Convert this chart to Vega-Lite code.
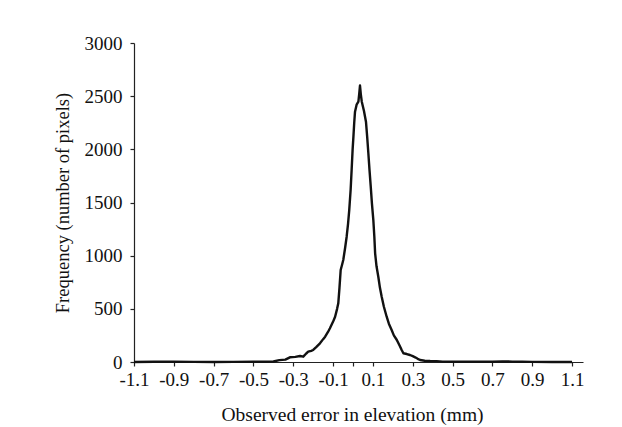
{
  "$schema": "https://vega.github.io/schema/vega-lite/v6.json",
  "width": 449,
  "height": 319,
  "autosize": "none",
  "padding": {"left": 134, "top": 43, "right": 39, "bottom": 65},
  "background": "white",
  "config": {
    "view": {"stroke": null},
    "font": "Liberation Serif",
    "axis": {
      "labelFont": "Liberation Serif",
      "titleFont": "Liberation Serif",
      "labelFontSize": 19,
      "titleFontSize": 19,
      "titleFontWeight": "normal",
      "labelColor": "#111",
      "titleColor": "#111",
      "domainColor": "#222",
      "tickColor": "#222",
      "domainWidth": 1.2,
      "tickWidth": 1.2,
      "grid": false
    }
  },
  "data": {
    "values": [
      {"error": -1.1, "freq": 0}, {"error": -1.0, "freq": 2}, {"error": -0.9, "freq": 3},
      {"error": -0.8, "freq": 1}, {"error": -0.7, "freq": 0}, {"error": -0.6, "freq": 1},
      {"error": -0.5, "freq": 2}, {"error": -0.45, "freq": 3}, {"error": -0.4, "freq": 5},
      {"error": -0.37, "freq": 18}, {"error": -0.34, "freq": 22}, {"error": -0.317, "freq": 44},
      {"error": -0.29, "freq": 48}, {"error": -0.266, "freq": 56}, {"error": -0.25, "freq": 50},
      {"error": -0.235, "freq": 80}, {"error": -0.225, "freq": 97}, {"error": -0.21, "freq": 105},
      {"error": -0.2, "freq": 113}, {"error": -0.185, "freq": 140}, {"error": -0.166, "freq": 176},
      {"error": -0.15, "freq": 215}, {"error": -0.14, "freq": 238}, {"error": -0.125, "freq": 285},
      {"error": -0.116, "freq": 317}, {"error": -0.1, "freq": 380}, {"error": -0.09, "freq": 426},
      {"error": -0.08, "freq": 500}, {"error": -0.074, "freq": 552}, {"error": -0.068, "freq": 700},
      {"error": -0.062, "freq": 865}, {"error": -0.055, "freq": 915}, {"error": -0.049, "freq": 959},
      {"error": -0.04, "freq": 1070}, {"error": -0.032, "freq": 1178}, {"error": -0.025, "freq": 1300},
      {"error": -0.019, "freq": 1429}, {"error": -0.012, "freq": 1620}, {"error": -0.007, "freq": 1806},
      {"error": -0.002, "freq": 2000}, {"error": 0.002, "freq": 2119}, {"error": 0.006, "freq": 2250},
      {"error": 0.01, "freq": 2354}, {"error": 0.018, "freq": 2420}, {"error": 0.027, "freq": 2448},
      {"error": 0.031, "freq": 2520}, {"error": 0.035, "freq": 2600}, {"error": 0.039, "freq": 2520},
      {"error": 0.044, "freq": 2448}, {"error": 0.055, "freq": 2360}, {"error": 0.065, "freq": 2260},
      {"error": 0.071, "freq": 2120}, {"error": 0.077, "freq": 1963}, {"error": 0.083, "freq": 1800},
      {"error": 0.089, "freq": 1649}, {"error": 0.095, "freq": 1490}, {"error": 0.102, "freq": 1335},
      {"error": 0.107, "freq": 1180}, {"error": 0.111, "freq": 1022}, {"error": 0.118, "freq": 900},
      {"error": 0.127, "freq": 802}, {"error": 0.135, "freq": 700}, {"error": 0.144, "freq": 614},
      {"error": 0.155, "freq": 520}, {"error": 0.169, "freq": 426}, {"error": 0.18, "freq": 360},
      {"error": 0.194, "freq": 301}, {"error": 0.205, "freq": 250}, {"error": 0.22, "freq": 207},
      {"error": 0.235, "freq": 150}, {"error": 0.245, "freq": 110}, {"error": 0.253, "freq": 82},
      {"error": 0.27, "freq": 75}, {"error": 0.286, "freq": 66}, {"error": 0.3, "freq": 55},
      {"error": 0.312, "freq": 44}, {"error": 0.325, "freq": 30}, {"error": 0.337, "freq": 19},
      {"error": 0.36, "freq": 12}, {"error": 0.387, "freq": 9}, {"error": 0.42, "freq": 8},
      {"error": 0.45, "freq": 4}, {"error": 0.5, "freq": 3}, {"error": 0.6, "freq": 2},
      {"error": 0.7, "freq": 3}, {"error": 0.75, "freq": 6}, {"error": 0.8, "freq": 4},
      {"error": 0.85, "freq": 2}, {"error": 0.9, "freq": 1}, {"error": 1.0, "freq": 0},
      {"error": 1.1, "freq": 0}
    ]
  },
  "mark": {"type": "line", "color": "#111", "strokeWidth": 2.4, "strokeJoin": "round"},
  "encoding": {
    "x": {
      "field": "error",
      "type": "quantitative",
      "scale": {"domain": [-1.1, 1.155], "nice": false, "zero": false},
      "axis": {
        "title": "Observed error in elevation (mm)",
        "titleFontSize": 19.5,
        "titleX": 218,
        "values": [-1.1, -0.9, -0.7, -0.5, -0.3, -0.1, 0, 0.1, 0.3, 0.5, 0.7, 0.9, 1.1],
        "labelExpr": "datum.value == 0 ? '' : replace(format(datum.value, '.1f'), '\u2212', '-')",
        "tickSize": 4,
        "labelPadding": 4,
        "labelFlush": false,
        "labelOverlap": false,
        "titlePadding": 16
      }
    },
    "y": {
      "field": "freq",
      "type": "quantitative",
      "scale": {"domain": [0, 3000], "nice": false},
      "axis": {
        "title": "Frequency (number of pixels)",
        "titleFontSize": 18.5,
        "format": "d",
        "values": [0, 500, 1000, 1500, 2000, 2500, 3000],
        "tickSize": 4,
        "labelPadding": 8,
        "titlePadding": 12
      }
    }
  }
}
